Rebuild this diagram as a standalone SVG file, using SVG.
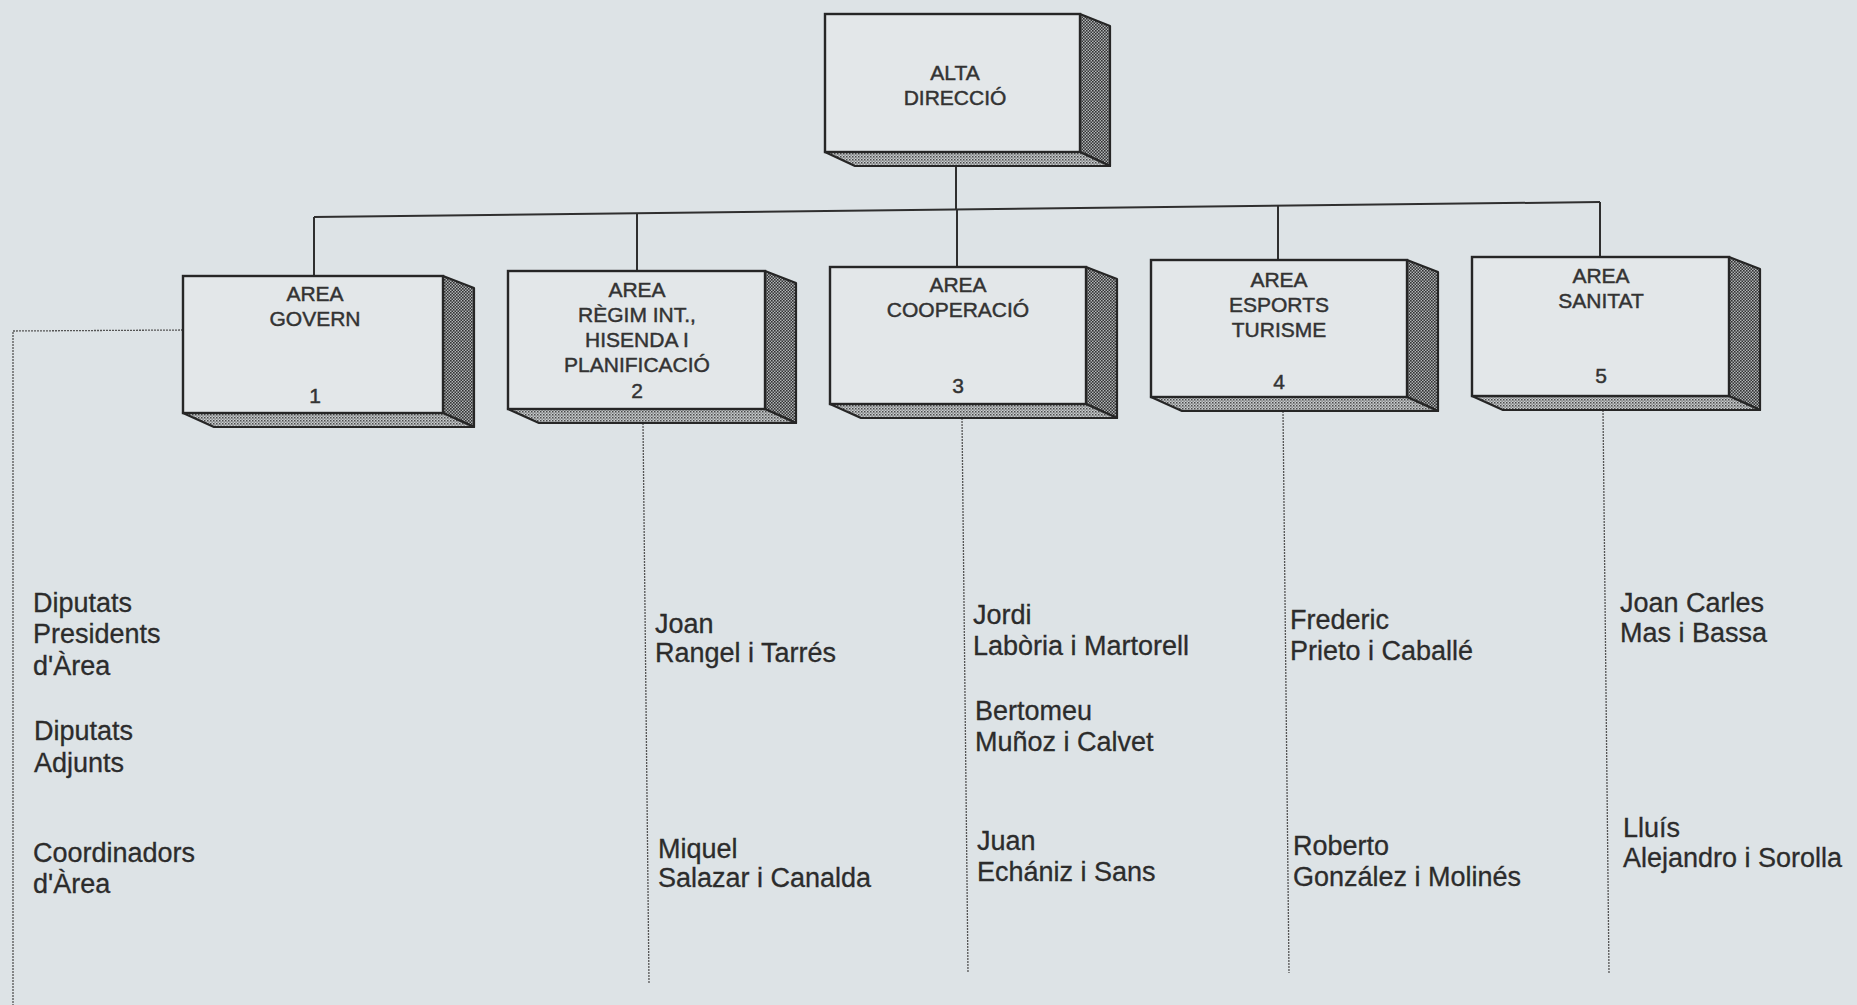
<svg xmlns="http://www.w3.org/2000/svg" width="1857" height="1005" viewBox="0 0 1857 1005">
  <defs>
    <pattern id="dots" width="3" height="3" patternUnits="userSpaceOnUse">
      <rect width="3" height="3" fill="#b0b4b6"/>
      <rect width="1.6" height="1.6" fill="#333"/>
      <rect x="1.5" y="1.5" width="1.6" height="1.6" fill="#333"/>
    </pattern>
    <pattern id="dotsLight" width="3" height="3" patternUnits="userSpaceOnUse">
      <rect width="3" height="3" fill="#c9cdcf"/>
      <rect width="1.5" height="1.5" fill="#4a4a4a"/>
      <rect x="1.5" y="1.5" width="1.2" height="1.2" fill="#5a5a5a"/>
    </pattern>
  </defs>
  <style>
    .front { fill: #e3e7e9; stroke: #262626; stroke-width: 2.4; }
    .side { fill: url(#dots); stroke: #262626; stroke-width: 2.2; stroke-linejoin: round; }
    .bottom { fill: url(#dotsLight); stroke: #262626; stroke-width: 2.2; stroke-linejoin: round; }
    .lbl { font-family: "Liberation Sans", Arial, sans-serif; font-size: 21px; fill: #333; stroke: #333; stroke-width: 0.45; text-anchor: middle; }
    .name { font-family: "Liberation Sans", Arial, sans-serif; font-size: 27px; fill: #2c2c2c; stroke: #2c2c2c; stroke-width: 0.3; }
    .conn { stroke: #2f2f2f; stroke-width: 2; fill: none; }
    .thin { stroke: #555; stroke-width: 1.3; fill: none; stroke-dasharray: 2 1; }
  </style>
  <rect width="1857" height="1005" fill="#dde3e6"/>

  <g id="connectors">
    <line class="conn" x1="956" y1="166" x2="956" y2="210"/>
    <line class="conn" x1="314" y1="217" x2="1600" y2="202"/>
    <line class="conn" x1="314" y1="217" x2="314" y2="276"/>
    <line class="conn" x1="637" y1="213" x2="637" y2="271"/>
    <line class="conn" x1="957" y1="209.5" x2="957" y2="267"/>
    <line class="conn" x1="1278" y1="206" x2="1278" y2="260"/>
    <line class="conn" x1="1600" y1="202" x2="1600" y2="257"/>
    <polyline class="thin" points="183,330 13,331 13,1005"/>
    <line class="thin" x1="643" y1="423" x2="649" y2="983"/>
    <line class="thin" x1="962" y1="418" x2="968" y2="973"/>
    <line class="thin" x1="1283" y1="411" x2="1289" y2="973"/>
    <line class="thin" x1="1603" y1="410" x2="1609" y2="973"/>
  </g>

  <g id="alta-direccio">
    <polygon class="side" points="1080,14 1110,26 1110,166 1080,152"/>
    <polygon class="bottom" points="825,152 1080,152 1110,166 855,166"/>
    <rect class="front" x="825" y="14" width="255" height="138"/>
    <text class="lbl" x="955" y="80">ALTA</text>
    <text class="lbl" x="955" y="105">DIRECCIÓ</text>
  </g>

  <g id="area-1">
    <polygon class="side" points="443,276 474,288 474,427 443,413"/>
    <polygon class="bottom" points="183,413 443,413 474,427 214,427"/>
    <rect class="front" x="183" y="276" width="260" height="137"/>
    <text class="lbl" x="315" y="301">AREA</text>
    <text class="lbl" x="315" y="326">GOVERN</text>
    <text class="lbl" x="315" y="403">1</text>
  </g>

  <g id="area-2">
    <polygon class="side" points="765,271 796,283 796,423 765,409"/>
    <polygon class="bottom" points="508,409 765,409 796,423 539,423"/>
    <rect class="front" x="508" y="271" width="257" height="138"/>
    <text class="lbl" x="637" y="297">AREA</text>
    <text class="lbl" x="637" y="322">RÈGIM INT.,</text>
    <text class="lbl" x="637" y="347">HISENDA I</text>
    <text class="lbl" x="637" y="372">PLANIFICACIÓ</text>
    <text class="lbl" x="637" y="398">2</text>
  </g>

  <g id="area-3">
    <polygon class="side" points="1086,267 1117,279 1117,418 1086,404"/>
    <polygon class="bottom" points="830,404 1086,404 1117,418 861,418"/>
    <rect class="front" x="830" y="267" width="256" height="137"/>
    <text class="lbl" x="958" y="292">AREA</text>
    <text class="lbl" x="958" y="317">COOPERACIÓ</text>
    <text class="lbl" x="958" y="393">3</text>
  </g>

  <g id="area-4">
    <polygon class="side" points="1407,260 1438,272 1438,411 1407,397"/>
    <polygon class="bottom" points="1151,397 1407,397 1438,411 1182,411"/>
    <rect class="front" x="1151" y="260" width="256" height="137"/>
    <text class="lbl" x="1279" y="287">AREA</text>
    <text class="lbl" x="1279" y="312">ESPORTS</text>
    <text class="lbl" x="1279" y="337">TURISME</text>
    <text class="lbl" x="1279" y="389">4</text>
  </g>

  <g id="area-5">
    <polygon class="side" points="1729,257 1760,269 1760,410 1729,396"/>
    <polygon class="bottom" points="1472,396 1729,396 1760,410 1503,410"/>
    <rect class="front" x="1472" y="257" width="257" height="139"/>
    <text class="lbl" x="1601" y="283">AREA</text>
    <text class="lbl" x="1601" y="308">SANITAT</text>
    <text class="lbl" x="1601" y="383">5</text>
  </g>

  <g id="legend">
    <text class="name" x="33" y="612">Diputats</text>
    <text class="name" x="33" y="643">Presidents</text>
    <text class="name" x="33" y="675">d'Àrea</text>
    <text class="name" x="34" y="740">Diputats</text>
    <text class="name" x="34" y="772">Adjunts</text>
    <text class="name" x="33" y="862">Coordinadors</text>
    <text class="name" x="33" y="893">d'Àrea</text>
  </g>

  <g id="names-2">
    <text class="name" x="655" y="633">Joan</text>
    <text class="name" x="655" y="662">Rangel i Tarrés</text>
    <text class="name" x="658" y="858">Miquel</text>
    <text class="name" x="658" y="887">Salazar i Canalda</text>
  </g>

  <g id="names-3">
    <text class="name" x="973" y="624">Jordi</text>
    <text class="name" x="973" y="655">Labòria i Martorell</text>
    <text class="name" x="975" y="720">Bertomeu</text>
    <text class="name" x="975" y="751">Muñoz i Calvet</text>
    <text class="name" x="977" y="850">Juan</text>
    <text class="name" x="977" y="881">Echániz i Sans</text>
  </g>

  <g id="names-4">
    <text class="name" x="1290" y="629">Frederic</text>
    <text class="name" x="1290" y="660">Prieto i Caballé</text>
    <text class="name" x="1293" y="855">Roberto</text>
    <text class="name" x="1293" y="886">González i Molinés</text>
  </g>

  <g id="names-5">
    <text class="name" x="1620" y="612">Joan Carles</text>
    <text class="name" x="1620" y="642">Mas i Bassa</text>
    <text class="name" x="1623" y="837">Lluís</text>
    <text class="name" x="1623" y="867">Alejandro i Sorolla</text>
  </g>
</svg>
